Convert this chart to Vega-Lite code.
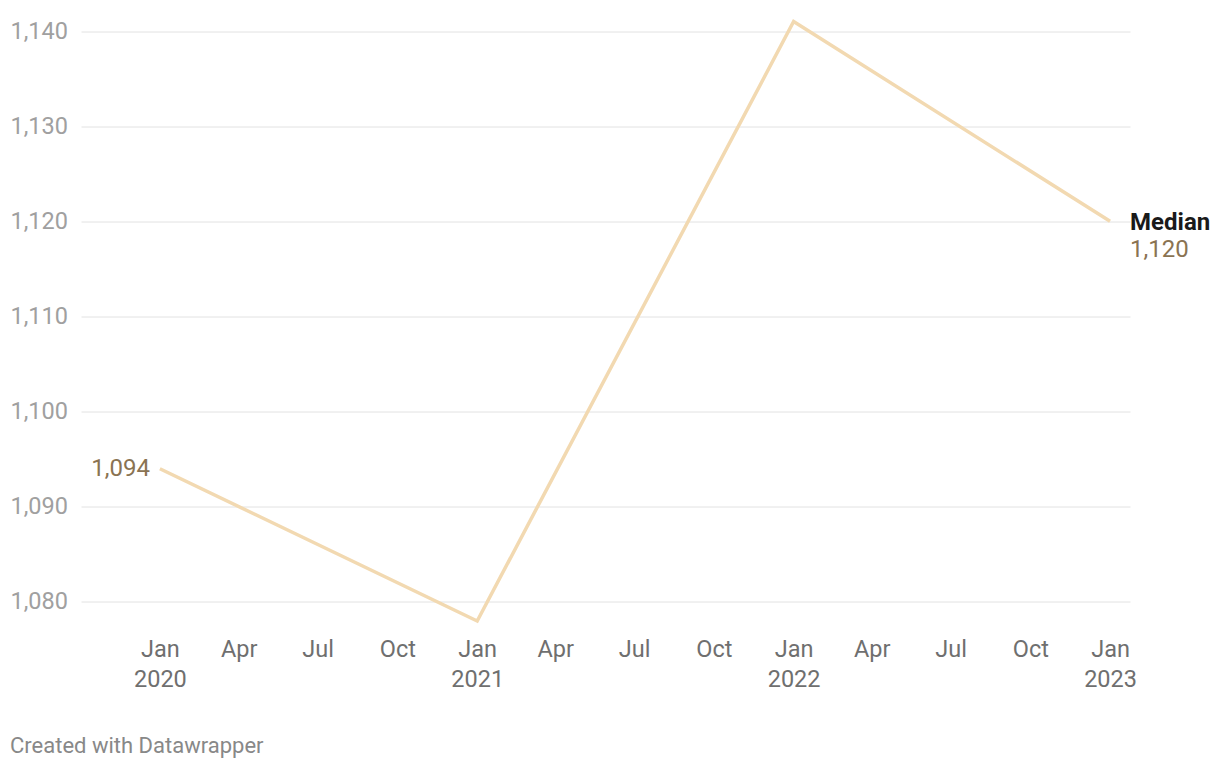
{
  "$schema": "https://vega.github.io/schema/vega-lite/v6.json",
  "autosize": "none",
  "width": 1049,
  "height": 599.5,
  "padding": {"left": 81, "top": 21.5, "right": 90, "bottom": 147},
  "background": "white",
  "config": {
    "view": {"stroke": null},
    "font": "Roboto",
    "title": {"font": "Roboto"}
  },
  "title": {
    "text": "Created with Datawrapper",
    "orient": "bottom",
    "anchor": "start",
    "frame": "bounds",
    "fontSize": 22,
    "fontWeight": "normal",
    "color": "#888888",
    "offset": 45
  },
  "data": {
    "values": [
      {"date": "2020-01-01T00:00:00", "value": 1094},
      {"date": "2021-01-01T00:00:00", "value": 1078},
      {"date": "2022-01-01T00:00:00", "value": 1141},
      {"date": "2023-01-01T00:00:00", "value": 1120}
    ]
  },
  "encoding": {
    "x": {
      "field": "date",
      "type": "temporal",
      "scale": {"domain": [{"year": 2019, "month": 10, "date": 2}, {"year": 2023, "month": 1, "date": 24}]},
      "axis": {
        "title": null,
        "domain": false,
        "ticks": false,
        "tickSize": 0,
        "grid": false,
        "tickCount": {"interval": "month", "step": 3},
        "labelExpr": "month(datum.value) == 0 ? ['Jan', timeFormat(datum.value, '%Y')] : timeFormat(datum.value, '%b')",
        "labelFontSize": 23.5,
        "labelColor": "#6f6f6f",
        "labelPadding": 16,
        "labelLineHeight": 30,
        "labelOverlap": false,
        "labelFlush": false
      }
    },
    "y": {
      "field": "value",
      "type": "quantitative",
      "scale": {"domain": [1078, 1141], "nice": false, "zero": false},
      "axis": {
        "title": null,
        "domain": false,
        "ticks": false,
        "tickSize": 0,
        "values": [1080, 1090, 1100, 1110, 1120, 1130, 1140],
        "labelExpr": "format(datum.value, ',d')",
        "grid": true,
        "gridColor": "#e2e2e2",
        "gridWidth": 1,
        "labelAlign": "left",
        "labelBaseline": "middle",
        "labelPadding": 71,
        "labelFontSize": 23.5,
        "labelColor": "#a0a0a0"
      }
    }
  },
  "layer": [
    {
      "mark": {"type": "line", "color": "#f2d9b1", "strokeWidth": 3.5, "clip": false}
    },
    {
      "transform": [{"filter": "year(datum.date) == 2020"}],
      "mark": {"type": "text", "align": "right", "baseline": "middle", "dx": -10, "fontSize": 24, "color": "#8a7352"},
      "encoding": {"text": {"field": "value", "type": "quantitative", "format": ",d"}}
    },
    {
      "transform": [{"filter": "year(datum.date) == 2023"}],
      "mark": {"type": "text", "align": "left", "baseline": "middle", "dx": 20, "dy": 2, "fontSize": 24, "fontWeight": "bold", "color": "#1a1a1a", "text": "Median"}
    },
    {
      "transform": [{"filter": "year(datum.date) == 2023"}],
      "mark": {"type": "text", "align": "left", "baseline": "middle", "dx": 20, "dy": 29, "fontSize": 24, "color": "#8a7352"},
      "encoding": {"text": {"field": "value", "type": "quantitative", "format": ",d"}}
    }
  ]
}
